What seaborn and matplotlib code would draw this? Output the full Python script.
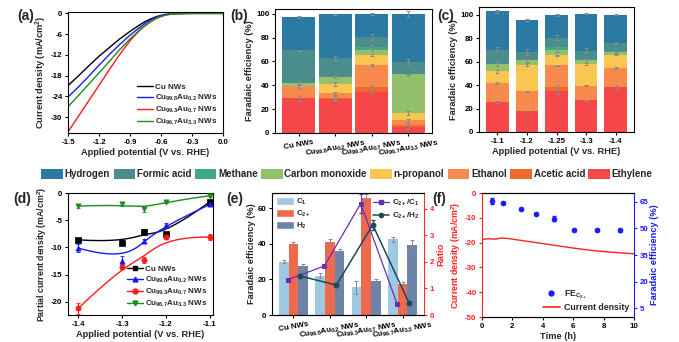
import numpy as np
import pandas as pd
import matplotlib
matplotlib.use('Agg')
import matplotlib.pyplot as plt
import seaborn as sns
from matplotlib.patches import Patch
from matplotlib.lines import Line2D

sns.set_theme(style='ticks')
plt.rcParams['font.family'] = ['Liberation Sans', 'DejaVu Sans']
plt.rcParams.update({
    'font.weight': 'bold', 'axes.labelweight': 'bold',
    'mathtext.fontset': 'custom', 'mathtext.rm': 'Liberation Sans:bold',
    'mathtext.it': 'Liberation Sans:bold:italic', 'mathtext.bf': 'Liberation Sans:bold',
    'mathtext.default': 'rm',
    'axes.linewidth': 0.8, 'xtick.major.width': 0.8, 'ytick.major.width': 0.8,
    'xtick.major.size': 2.5, 'ytick.major.size': 2.5,
    'xtick.major.pad': 1.5, 'ytick.major.pad': 1.5,
    'xtick.labelsize': 5.7, 'ytick.labelsize': 5.7, 'axes.labelsize': 6.7,
    'axes.edgecolor': 'black', 'xtick.color': 'black', 'ytick.color': 'black',
    'axes.labelpad': 1.5,
})

# ---------------- data ----------------
sample_names = ['Cu NWs', 'Cu$_{99.8}$Au$_{0.2}$ NWs', 'Cu$_{99.3}$Au$_{0.7}$ NWs', 'Cu$_{96.7}$Au$_{3.3}$ NWs']
sample_colors = ['#000000', '#1a1aff', '#ff1a1a', '#1e8c1e']

# (a) LSV
lsv_potential = [-1.5, -1.4, -1.3, -1.2, -1.1, -1.0, -0.9, -0.8, -0.75, -0.7, -0.65, -0.6,
                 -0.55, -0.5, -0.45, -0.4, -0.3, -0.2, -0.1, 0.0]
lsv_cu = [-20.9, -18.1, -15.2, -12.4, -9.9, -7.4, -5.2, -3.2, -2.3, -1.6, -1.0, -0.6,
          -0.3, -0.15, -0.08, -0.04, 0.0, 0.0, 0.0, 0.0]
lsv_au02 = [-24.2, -21.3, -18.2, -15.0, -11.9, -9.0, -6.3, -3.9, -2.8, -1.9, -1.1, -0.6,
            -0.25, -0.1, -0.05, -0.02, 0.0, 0.0, 0.0, 0.0]
lsv_au07 = [-34.3, -29.8, -25.3, -20.8, -16.3, -11.9, -7.9, -4.7, -3.5, -2.4, -1.5, -0.9,
            -0.45, -0.2, -0.1, -0.05, 0.0, 0.0, 0.0, 0.0]
lsv_au33 = [-27.0, -23.8, -20.5, -17.2, -13.9, -10.5, -7.4, -4.6, -3.4, -2.4, -1.5, -0.9,
            -0.45, -0.2, -0.1, -0.05, 0.0, 0.0, 0.0, 0.0]

# product FE (bottom to top of stack)
products = ['Ethylene', 'Acetic acid', 'Ethanol', 'n-propanol', 'Carbon monoxide',
            'Methane', 'Formic acid', 'Hydrogen']
product_colors = {'Hydrogen': '#2a7aa3', 'Formic acid': '#4b8c8c', 'Methane': '#3fa98a',
                  'Carbon monoxide': '#92c06b', 'n-propanol': '#f9c74f', 'Ethanol': '#f78a4c',
                  'Acetic acid': '#f06a2b', 'Ethylene': '#f5474a'}
legend_order = ['Hydrogen', 'Formic acid', 'Methane', 'Carbon monoxide', 'n-propanol',
                'Ethanol', 'Acetic acid', 'Ethylene']

# (b) FE per sample
fe_b = {
    'Ethylene':        [29.0, 28.3, 34.7, 4.7],
    'Acetic acid':     [0.0, 1.4, 3.6, 2.3],
    'Ethanol':         [10.0, 3.6, 18.7, 3.5],
    'n-propanol':      [0.0, 7.7, 8.3, 6.2],
    'Carbon monoxide': [3.0, 6.2, 4.2, 32.7],
    'Methane':         [0.0, 0.0, 2.5, 0.0],
    'Formic acid':     [27.5, 15.8, 8.5, 10.3],
    'Hydrogen':        [27.5, 36.4, 19.5, 40.3],
}
err_b = {
    'Ethylene':        [2.0, 1.2, 1.5, 1.0],
    'Acetic acid':     [0.0, 1.5, 2.0, 1.0],
    'Ethanol':         [2.0, 1.5, 0.5, 1.0],
    'n-propanol':      [0.0, 1.5, 0.8, 1.5],
    'Carbon monoxide': [1.5, 1.2, 1.0, 0.5],
    'Methane':         [0.0, 0.0, 1.5, 0.0],
    'Formic acid':     [0.5, 1.5, 2.5, 2.0],
    'Hydrogen':        [0.8, 0.5, 0.8, 2.5],
}
# (c) FE per potential
potentials_c = ['-1.1', '-1.2', '-1.25', '-1.3', '-1.4']
fe_c = {
    'Ethylene':        [25.6, 17.6, 34.7, 27.0, 38.4],
    'Acetic acid':     [0.0, 0.0, 3.6, 0.0, 0.0],
    'Ethanol':         [16.2, 17.1, 18.7, 12.5, 16.1],
    'n-propanol':      [9.9, 22.7, 8.3, 18.7, 11.4],
    'Carbon monoxide': [6.5, 3.7, 4.2, 3.4, 2.3],
    'Methane':         [0.0, 0.0, 2.5, 0.0, 0.6],
    'Formic acid':     [12.0, 6.8, 8.5, 7.7, 7.1],
    'Hydrogen':        [32.6, 27.8, 19.5, 31.6, 24.1],
}
err_c = {
    'Ethylene':        [0.5, 0.5, 2.0, 0.5, 2.0],
    'Acetic acid':     [0.0, 0.0, 2.0, 0.0, 0.0],
    'Ethanol':         [0.8, 0.5, 0.5, 0.5, 0.5],
    'n-propanol':      [1.5, 1.0, 0.5, 0.8, 0.5],
    'Carbon monoxide': [2.0, 1.5, 1.5, 1.0, 0.8],
    'Methane':         [0.0, 0.0, 1.5, 0.0, 0.5],
    'Formic acid':     [2.0, 2.5, 2.5, 2.0, 1.0],
    'Hydrogen':        [1.0, 1.0, 0.8, 0.5, 0.5],
}

# (d) partial current density
potential_d = [-1.4, -1.3, -1.25, -1.2, -1.1]
jd = [[-8.6, -9.1, -7.1, -7.5, -1.6],
      [-10.1, -12.4, -8.8, -5.9, -2.1],
      [-21.2, -13.5, -12.3, -8.0, -8.1],
      [-2.4, -2.1, -3.0, -1.6, -0.5]]
jd_err = [[0.3, 0.5, 0.4, 0.3, 0.4],
          [0.8, 0.8, 0.4, 0.4, 0.3],
          [1.0, 0.5, 0.6, 0.5, 0.5],
          [0.3, 0.3, 0.4, 0.3, 0.2]]
markers_d = ['s', '^', 'o', 'v']

# (e) grouped FE and ratios
fe_types = ['C$_1$', 'C$_{2+}$', 'H$_2$']
fe_c1 = [30.0, 22.0, 15.5, 42.5]
fe_c2 = [40.0, 41.0, 65.5, 17.5]
fe_h2 = [27.3, 36.0, 19.3, 39.5]
err_c1 = [0.8, 1.5, 3.5, 1.5]
err_c2 = [0.8, 1.8, 2.5, 0.8]
err_h2 = [1.2, 0.8, 1.0, 2.8]
ratio_c2_c1 = [1.33, 1.85, 4.2, 0.42]
ratio_c2_h2 = [1.47, 1.13, 3.4, 0.45]
ratio_c2_c1_err = [0.0, 0.0, 0.35, 0.0]
ratio_c2_h2_err = [0.0, 0.0, 0.2, 0.0]

# (f) stability
time_fe = [0.65, 1.4, 2.55, 3.55, 4.75, 6.05, 7.55, 9.05]
fe_c2_time = [65.5, 64.4, 61.0, 58.3, 55.5, 49.1, 49.0, 48.9]
fe_time_err = [1.5, 0.8, 0.5, 0.5, 1.5, 0.6, 0.6, 0.8]
time_cd = [0.0, 0.3, 0.6, 0.9, 1.2, 1.5, 2.0, 3.0, 4.0, 5.0, 6.0, 7.0, 8.0, 9.0, 10.0]
current_cd = [-18.8, -18.5, -18.5, -18.6, -18.2, -18.2, -18.6, -19.5, -20.4, -21.3,
              -22.2, -23.0, -23.6, -24.1, -24.5]

# ---------------- helpers ----------------
def bspline(cx, cy, deg=3, n=200):
    cx = np.asarray(cx, float); cy = np.asarray(cy, float)
    m = len(cx)
    inner = np.linspace(0, 1, m - deg + 1)
    knots = np.concatenate([[0] * deg, inner, [1] * deg])
    t = np.linspace(0, 1, n); t[-1] -= 1e-9

    def N(i, k, t):
        if k == 0:
            return ((knots[i] <= t) & (t < knots[i + 1])).astype(float)
        d1 = knots[i + k] - knots[i]; d2 = knots[i + k + 1] - knots[i + 1]
        a = (t - knots[i]) / d1 * N(i, k - 1, t) if d1 > 0 else 0
        b = (knots[i + k + 1] - t) / d2 * N(i + 1, k - 1, t) if d2 > 0 else 0
        return a + b
    B = np.array([N(i, deg, t) for i in range(m)])
    return B.T @ cx, B.T @ cy


W, H = 679, 342
fig = plt.figure(figsize=(W / 100, H / 100), dpi=100)


def add_ax(l, t, r, b):
    return fig.add_axes([l / W, 1 - b / H, (r - l) / W, (b - t) / H])


def panel_label(x, y, s):
    fig.text(x / W, 1 - y / H, s, fontsize=10, fontweight='bold', ha='left', va='center')


axA = add_ax(68, 12, 223, 133)
axB = add_ax(275, 9, 432, 133)
axC = add_ax(479, 7, 634, 132)
axD = add_ax(68, 193, 213, 315)
axE = add_ax(272, 193, 424, 315)
axF = add_ax(482, 193, 634, 317)

# ---------------- (a) ----------------
for name, vals, col in zip(sample_names, [lsv_cu, lsv_au02, lsv_au07, lsv_au33], sample_colors):
    sns.lineplot(x=lsv_potential, y=vals, color=col, lw=1.0, ax=axA, label=name)
axA.set_xlim(-1.5, 0.0)
axA.set_ylim(-34.6, 0.4)
axA.set_xticks([-1.5, -1.2, -0.9, -0.6, -0.3, 0.0])
axA.set_xticklabels(['-1.5', '-1.2', '-0.9', '-0.6', '-0.3', '0.0'])
axA.set_yticks([0, -6, -12, -18, -24, -30])
axA.set_yticklabels(['0', '-6', '-12', '-18', '-24', '-30'])
axA.set_xlabel('Applied potential (V vs. RHE)')
axA.set_ylabel('Current density (mA/cm$^2$)')
axA.legend(loc='lower right', fontsize=5.8, frameon=False, handlelength=1.9,
           handletextpad=0.3, labelspacing=0.25, borderaxespad=0.3)


# ---------------- stacked bars (b), (c) ----------------
def stacked(ax, cats, fe, err, width):
    cum = np.zeros(len(cats))
    tops = {}
    for p in products:
        cum = cum + np.asarray(fe[p])
        tops[p] = cum.copy()
    for p in reversed(products):
        sns.barplot(x=cats, y=list(tops[p]), order=cats, color=product_colors[p], width=width,
                    saturation=1, ax=ax, errorbar=None, linewidth=0)
    xpos = np.arange(len(cats))
    for p in products:
        v = np.asarray(fe[p]); e = np.asarray(err[p])
        m = (v > 0) & (e > 0)
        ax.errorbar(xpos[m], tops[p][m], yerr=e[m], fmt='none', ecolor='#8a8a8a',
                    elinewidth=0.7, capsize=1.6, capthick=0.7, zorder=5)


stacked(axB, sample_names, fe_b, err_b, 0.9)
axB.set_ylim(0, 104)
axB.set_yticks([0, 20, 40, 60, 80, 100])
axB.set_ylabel('Faradaic efficiency (%)')
axB.set_xlabel('')
axB.set_xticks(range(4))
axB.set_xticklabels(sample_names, rotation=10, ha='center', fontsize=5.7)

stacked(axC, potentials_c, fe_c, err_c, 0.76)
axC.set_ylim(0, 106.5)
axC.set_yticks([0, 20, 40, 60, 80, 100])
axC.set_ylabel('Faradaic efficiency (%)')
axC.set_xlabel('Applied potential (V vs. RHE)')

handles = [Patch(facecolor=product_colors[p], edgecolor='none', label=p) for p in legend_order]
fig.legend(handles=handles, loc='center', bbox_to_anchor=(347 / W, 1 - 174 / H), ncol=8,
           frameon=False, fontsize=7, handlelength=2.2, handleheight=1.2, handletextpad=0.2,
           columnspacing=0.35, borderpad=0, borderaxespad=0)

# ---------------- (d) ----------------
for name, vals, errs, col, mk in zip(sample_names, jd, jd_err, sample_colors, markers_d):
    sx, sy = bspline(potential_d, vals)
    sns.lineplot(x=sx, y=sy, sort=False, color=col, lw=1.0, ax=axD)
    sns.scatterplot(x=potential_d, y=vals, marker=mk, color=col, s=14, edgecolor=col,
                    linewidth=0.5, ax=axD, zorder=4)
    axD.errorbar(potential_d, vals, yerr=errs, fmt='none', ecolor=col, elinewidth=0.7,
                 capsize=1.2, capthick=0.6)
axD.set_xlim(-1.423, -1.093)
axD.set_ylim(-22.4, 0)
axD.set_xticks([-1.4, -1.3, -1.2, -1.1])
axD.set_xticklabels(['-1.4', '-1.3', '-1.2', '-1.1'])
axD.set_yticks([0, -5, -10, -15, -20])
axD.set_yticklabels(['0', '-5', '-10', '-15', '-20'])
axD.set_xlabel('Applied potential (V vs. RHE)')
axD.set_ylabel('Partial current density (mA/cm$^2$)', fontsize=6.3)
d_handles = [Line2D([], [], color=c, marker=m, markersize=3.5, lw=1.0, label=n)
             for n, c, m in zip(sample_names, sample_colors, markers_d)]
axD.legend(handles=d_handles, loc='lower right', fontsize=5.8, frameon=False,
           handlelength=2.0, handletextpad=0.3, labelspacing=0.25, borderaxespad=0.3)

# ---------------- (e) ----------------
df_e = pd.DataFrame({'sample': sample_names * 3,
                     'type': np.repeat(fe_types, 4),
                     'FE': fe_c1 + fe_c2 + fe_h2})
e_colors = ['#9fc8e3', '#ef6a4c', '#6d84a8']
sns.barplot(data=df_e, x='sample', y='FE', hue='type', order=sample_names, hue_order=fe_types,
            palette=e_colors, width=0.8, saturation=1, ax=axE, errorbar=None, legend=False,
            linewidth=0)
e_errs = err_c1 + err_c2 + err_h2
bars = [p for p in axE.patches]
for bar, e, v in zip(bars, e_errs, fe_c1 + fe_c2 + fe_h2):
    axE.errorbar(bar.get_x() + bar.get_width() / 2, v, yerr=e, fmt='none', ecolor='#8a8a8a',
                 elinewidth=0.7, capsize=1.6, capthick=0.7)
axE.set_ylim(0, 68.5)
axE.set_yticks([0, 20, 40, 60])
axE.set_ylabel('Faradaic efficiency (%)')
axE.set_xlabel('')
axE.set_xticks(range(4))
axE.set_xticklabels(sample_names, rotation=10, ha='center', fontsize=5.7)
axE2 = axE.twinx()
pos = np.arange(4)
ratio_colors = ['#6a2fb0', '#1b4a5a']
sns.lineplot(x=pos - 0.15, y=ratio_c2_c1, color=ratio_colors[0], marker='s', markersize=3.5,
             markeredgecolor=ratio_colors[0], lw=0.9, ax=axE2)
sns.lineplot(x=pos + 0.18, y=ratio_c2_h2, color=ratio_colors[1], marker='o', markersize=3.5,
             markeredgecolor=ratio_colors[1], lw=1.1, ax=axE2)
axE2.errorbar(pos - 0.15, ratio_c2_c1, yerr=ratio_c2_c1_err, fmt='none', ecolor=ratio_colors[0],
              elinewidth=0.7, capsize=1.2)
axE2.errorbar(pos + 0.18, ratio_c2_h2, yerr=ratio_c2_h2_err, fmt='none', ecolor=ratio_colors[1],
              elinewidth=0.7, capsize=1.2)
axE2.set_ylim(0, 4.6)
axE2.set_yticks([0, 1, 2, 3, 4])
axE2.set_ylabel('Ratio', color='#ff2a2a')
axE2.tick_params(axis='y', colors='#ff2a2a')
axE2.spines['right'].set_color('#ff2a2a')
axE.spines['right'].set_visible(False)
axE2.spines['left'].set_visible(False)
leg1 = axE.legend(handles=[Patch(facecolor=c, label=t) for c, t in zip(e_colors, fe_types)],
                  loc='upper left', fontsize=5.8, frameon=False, handlelength=2.2,
                  handleheight=1.2, handletextpad=0.3, labelspacing=0.2, borderaxespad=0.1)
axE2.legend(handles=[Line2D([], [], color=ratio_colors[0], marker='s', markersize=3, lw=0.9,
                            label='C$_{2+}$/C$_1$'),
                     Line2D([], [], color=ratio_colors[1], marker='o', markersize=3, lw=1.1,
                            label='C$_{2+}$/H$_2$')],
            loc='upper right', fontsize=5.8, frameon=False, handlelength=2.0,
            handletextpad=0.3, labelspacing=0.3, borderaxespad=0.2)

# ---------------- (f) ----------------
sns.lineplot(x=time_cd, y=current_cd, color='#ff2020', lw=1.0, ax=axF)
axF.set_xlim(0, 10)
axF.set_ylim(-50, 0)
axF.set_xticks([0, 2, 4, 6, 8, 10])
axF.set_yticks([0, -10, -20, -30, -40, -50])
axF.set_yticklabels(['0', '-10', '-20', '-30', '-40', '-50'])
axF.set_xlabel('Time (h)')
axF.set_ylabel('Current density (mA/cm$^2$)', color='#ff2020', fontsize=6.3)
axF.tick_params(axis='y', colors='#ff2020')
axF.spines['left'].set_color('#ff2020')
axF.spines['right'].set_visible(False)
axF2 = axF.twinx()
sns.scatterplot(x=time_fe, y=fe_c2_time, color='#1a1aff', s=14, edgecolor='#1a1aff', ax=axF2)
axF2.errorbar(time_fe, fe_c2_time, yerr=fe_time_err, fmt='none', ecolor='#1a1aff',
              elinewidth=0.7, capsize=1.2)
axF2.set_ylim(0, 70)
axF2.set_yticks([5, 20, 35, 50, 65])
axF2.set_ylabel('Faradaic efficiency (%)', color='#1a1aff')
axF2.tick_params(axis='y', colors='#1a1aff')
axF2.spines['right'].set_color('#1a1aff')
axF2.spines['left'].set_visible(False)
axF2.legend(handles=[Line2D([], [], color='#1a1aff', marker='o', lw=0, markersize=3.5,
                            label='FE$_{C_{2+}}$'),
                     Line2D([], [], color='#ff2020', lw=1.2, label='Current density')],
            loc='lower right', fontsize=6.3, frameon=False, handlelength=2.0,
            handletextpad=0.4, labelspacing=0.2, borderaxespad=0.2)

panel_label(17, 16, '(a)')
panel_label(230, 16, '(b)')
panel_label(437, 16, '(c)')
panel_label(13, 199, '(d)')
panel_label(226, 199, '(e)')
panel_label(432, 199, '(f)')

fig.savefig('out.png', dpi=100)
